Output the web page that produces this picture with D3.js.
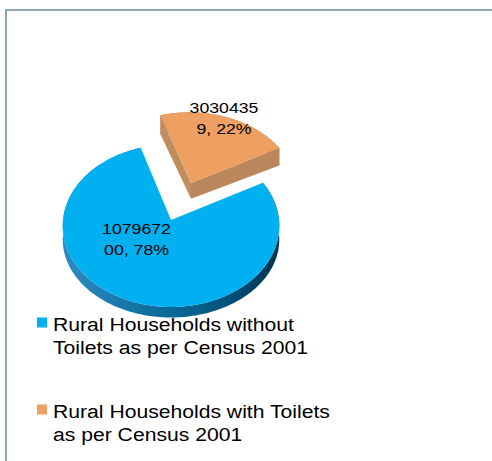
<!DOCTYPE html>
<html>
<head>
<meta charset="utf-8">
<script src="https://cdn.jsdelivr.net/npm/d3@7/dist/d3.min.js"></script>
<style>
  html, body { margin: 0; padding: 0; background: #ffffff; }
  svg { display: block; }
  text { font-family: "Liberation Sans", Arial, sans-serif; fill: #000; }
</style>
</head>
<body>
<script>
// Rural households and toilet availability, Census 2001
const categories = [
  "Rural Households without Toilets as per Census 2001",
  "Rural Households with Toilets as per Census 2001"
];
const values = [107967200, 30304359];
const explodeBy = [0, 0.51];          // radial pull-out, fraction of radius

// styling
const topColors  = ["#00b0f0", "#eea062"];
const sideColors = ["url(#blueSide)", "#b9875b"];
const faceColors = ["#0a6a9a", "#c08d5e"];

const W = 492, H = 461;
const svg = d3.select("body").append("svg").attr("width", W).attr("height", H);

// chart-area frame
svg.append("rect")
  .attr("x", 6).attr("y", 10)
  .attr("width", W + 20).attr("height", H + 20)
  .attr("fill", "none").attr("stroke", "#8ba7b9").attr("stroke-width", 2);

const defs = svg.append("defs");
const grad = defs.append("linearGradient").attr("id", "blueSide")
  .attr("gradientUnits", "userSpaceOnUse")
  .attr("x1", 62).attr("y1", 0).attr("x2", 280).attr("y2", 0);
[["0", "#2d8dc2"], ["0.45", "#0c6b9c"], ["0.75", "#00537b"], ["1", "#00344e"]]
  .forEach(([o, c]) => grad.append("stop").attr("offset", o).attr("stop-color", c));

// 3D pie geometry (tilted disc with mild perspective)
const geo = { cx: 171, cy: 220, rx: 108, ry: 80.8, persp: 0.071, depth: 14 };
function project(ux, uz, h) {
  const s = 1 / (1 - geo.persp * uz);
  return [geo.cx + geo.rx * ux * s,
          geo.cy + geo.ry * uz * s + h * geo.depth * (1 - 0.25 * uz)];
}
function rim(a, off, h) {
  return project(off[0] + Math.sin(a), off[1] - Math.cos(a), h);
}
function sampleAngles(a0, a1) {
  const n = Math.max(2, Math.ceil((a1 - a0) / (Math.PI / 120)));
  return d3.range(n + 1).map(j => a0 + (a1 - a0) * j / n);
}
const poly = pts => "M" + pts.map(p => p[0].toFixed(2) + "," + p[1].toFixed(2)).join("L") + "Z";

const start = 61.5 * Math.PI / 180;
const pie = d3.pie().sort(null).value(d => d)
  .startAngle(start).endAngle(start + 2 * Math.PI);
const arcs = pie(values).map((a, i) => {
  const mid = (a.startAngle + a.endAngle) / 2;
  const e = explodeBy[i];
  return { ...a, i, mid, off: [e * Math.sin(mid), -e * Math.cos(mid)] };
});

// paint back slices first
const order = arcs.slice().sort((p, q) => (-Math.cos(p.mid)) - (-Math.cos(q.mid)));
const gPie = svg.append("g");

order.forEach(a => {
  const g = gPie.append("g");
  const angs = sampleAngles(a.startAngle, a.endAngle);
  const topArc = angs.map(t => rim(t, a.off, 0));
  const botArc = angs.map(t => rim(t, a.off, 1)).reverse();
  const cTop = project(a.off[0], a.off[1], 0);
  const cBot = project(a.off[0], a.off[1], 1);

  // outer wall
  g.append("path").attr("d", poly(topArc.concat(botArc)))
    .attr("fill", sideColors[a.i]);

  // radial cut faces, only when turned towards the viewer
  const faces = [
    { ang: a.startAngle, n: a.startAngle - Math.PI / 2 },
    { ang: a.endAngle,   n: a.endAngle + Math.PI / 2 }
  ].filter(f => -Math.cos(f.n) > 0)
   .sort((p, q) => (-Math.cos(p.n)) - (-Math.cos(q.n)));
  faces.forEach(f => {
    g.append("path")
      .attr("d", poly([cTop, rim(f.ang, a.off, 0), rim(f.ang, a.off, 1), cBot]))
      .attr("fill", a.i === 0 ? faceColors[0] : (f.ang === a.endAngle ? "#b9875b" : faceColors[1]));
  });

  // top face
  g.append("path").attr("d", poly([cTop].concat(topArc)))
    .attr("fill", topColors[a.i]);
});

// data labels: "value, pct%" wrapped after seven characters
const total = d3.sum(values);
const labelPos = [[136.5, 234], [224, 113]];
const sx = 1.18;
arcs.forEach(a => {
  const txt = `${a.data}, ${Math.round(a.data / total * 100)}%`;
  const lines = [txt.slice(0, 7), txt.slice(7).trim()];
  const g = svg.append("g")
    .attr("transform", `translate(${labelPos[a.i][0]},${labelPos[a.i][1]}) scale(${sx},1)`);
  lines.forEach((l, j) => g.append("text")
    .attr("x", 0).attr("y", j * 21)
    .attr("text-anchor", "middle")
    .attr("font-size", 15).text(l));
});

// legend
const legend = svg.append("g");
const maxLine = 290;
categories.forEach((name, i) => {
  const base = 331 + i * 87;
  legend.append("rect")
    .attr("x", 37).attr("y", base - 13.5)
    .attr("width", 10).attr("height", 10)
    .attr("fill", topColors[i]);
  const g = legend.append("g").attr("transform", `translate(53,${base}) scale(1.175,1)`);
  const words = name.split(" ");
  const probe = g.append("text").attr("font-size", 18);
  const lines = [];
  let cur = "";
  words.forEach(w => {
    const trial = cur ? cur + " " + w : w;
    probe.text(trial);
    if (probe.node().getComputedTextLength() * 1.175 > maxLine && cur) {
      lines.push(cur); cur = w;
    } else cur = trial;
  });
  lines.push(cur);
  probe.remove();
  lines.forEach((l, j) => g.append("text")
    .attr("x", 0).attr("y", j * 23.5)
    .attr("font-size", 18).text(l));
});
</script>
</body>
</html>
